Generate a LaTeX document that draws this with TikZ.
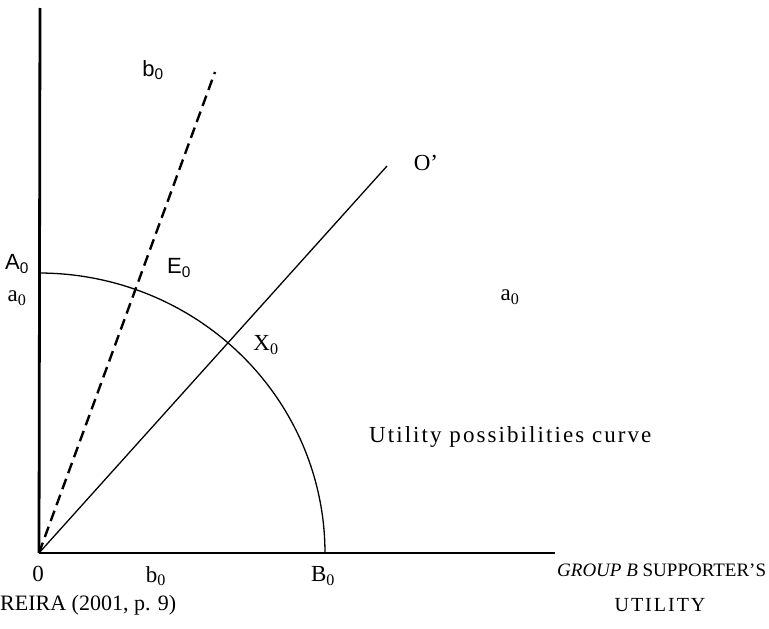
\documentclass[tikz,border=0pt]{standalone}
\usepackage{fontspec}
\setmainfont{Liberation Serif}
\newfontfamily\lblsans{Liberation Sans}
\newfontfamily\spacedserif[LetterSpace=9]{Liberation Serif}
\newfontfamily\widespaced[LetterSpace=10]{Liberation Serif}
\usetikzlibrary{positioning,calc}

\newcommand{\zsub}[1]{#1\textsubscript{0}}

\begin{document}
\begin{tikzpicture}[
  x=1pt,y=-1pt,
  every node/.style={inner sep=0pt,font=\fontsize{23}{27}\selectfont},
  axis/.style={line width=2.8pt},
  curve/.style={line width=1.3pt},
  ray/.style={line width=1.3pt},
  dashray/.style={line width=2.4pt,dash pattern=on 11pt off 6pt},
  sanslbl/.style={font=\fontsize{22}{26}\lblsans},
  note/.style={font=\fontsize{23}{27}\spacedserif,anchor=west}
]
\useasboundingbox (0,0) rectangle (769,629);
% points
\coordinate (O) at (39,553);
\coordinate (ytop) at (40,8);
\coordinate (xend) at (555,553);
\coordinate (dtop) at (215,72);
\coordinate (otop) at (387,166);
% axes
\draw[axis] (O) -- (ytop);
\draw[axis] (O) -- (xend);
% utility possibilities curve
\draw[curve] plot[domain=90:0,samples=80] ({39+286*cos(\x)},{553-280*sin(\x)});
% rays
\draw[dashray] (O) -- (dtop);
\draw[ray] (O) -- (otop);
% labels
\node[sanslbl] (btop) at (153,70) {\zsub{b}};
\node (oprime) at (426,163) {O’};
\node[sanslbl] (A0) at (17,264) {\zsub{A}};
\node[sanslbl] (E0) at (179,268) {\zsub{E}};
\node (aleft) at (17,298) {\zsub{a}};
\node (aright) at (510,297) {\zsub{a}};
\node (X0) at (266,345) {\zsub{X}};
\node[note] (upc) at (369,437) {Utility possibilities curve};
\node (zero) at (38,574) {0};
\node (bbot) at (156,576) {\zsub{b}};
\node (B0) at (323,576) {\zsub{B}};
\node[anchor=west,font=\fontsize{19}{23}\selectfont] (xlab) at (557,570) {\textit{GROUP B} SUPPORTER'S};
\node[font=\fontsize{20}{24}\widespaced] (xlab2) at (660,605) {UTILITY};
\node[anchor=west,font=\fontsize{22}{26}\selectfont] (src) at (0,605) {REIRA (2001, p. 9)};
\end{tikzpicture}
\end{document}
